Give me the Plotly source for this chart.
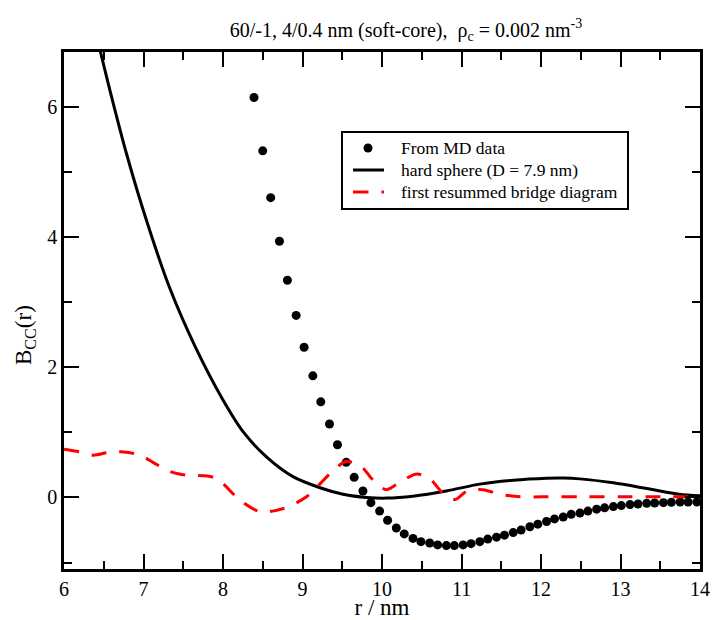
import plotly.graph_objects as go

# MD bridge function samples
r_md = [8.39, 8.50, 8.60, 8.71, 8.81, 8.92, 9.02, 9.13, 9.23, 9.34,
        9.44, 9.55, 9.65, 9.76, 9.86, 9.97, 10.07, 10.18, 10.28, 10.39,
        10.49, 10.60, 10.70, 10.81, 10.91, 11.02, 11.12, 11.23, 11.33, 11.44,
        11.54, 11.65, 11.75, 11.86, 11.96, 12.07, 12.17, 12.28, 12.38, 12.49,
        12.59, 12.70, 12.80, 12.91, 13.01, 13.12, 13.22, 13.33, 13.43, 13.54,
        13.64, 13.75, 13.85, 13.96]
b_md = [6.15, 5.33, 4.61, 3.94, 3.34, 2.80, 2.31, 1.87, 1.47, 1.13,
        0.81, 0.54, 0.31, 0.10, -0.08, -0.21, -0.35, -0.47, -0.56, -0.63,
        -0.68, -0.70, -0.73, -0.74, -0.74, -0.73, -0.71, -0.68, -0.64, -0.61,
        -0.58, -0.54, -0.50, -0.45, -0.41, -0.37, -0.33, -0.30, -0.26, -0.24,
        -0.21, -0.18, -0.16, -0.14, -0.125, -0.11, -0.10, -0.09, -0.085, -0.08,
        -0.075, -0.07, -0.07, -0.07]

# hard-sphere bridge function (D = 7.9 nm)
r_hs = [6.40, 6.58, 6.79, 7.04, 7.33, 7.65, 8.00, 8.26, 8.55, 8.88,
        9.22, 9.51, 9.81, 10.06, 10.39, 10.81, 11.23, 11.65, 12.07, 12.28,
        12.49, 12.91, 13.33, 13.74, 14.00]
b_hs = [7.15, 6.25, 5.27, 4.25, 3.22, 2.32, 1.50, 1.00, 0.62, 0.32,
        0.15, 0.05, 0.00, -0.01, 0.02, 0.10, 0.205, 0.266, 0.297, 0.30,
        0.286, 0.225, 0.138, 0.05, 0.025]

# first resummed bridge diagram
r_br = [6.00, 6.20, 6.37, 6.55, 6.75, 6.96, 7.12, 7.29, 7.45, 7.59,
        7.80, 7.90, 8.00, 8.21, 8.47, 8.76, 9.05, 9.35, 9.54, 9.72,
        9.85, 9.95, 10.06, 10.23, 10.44, 10.60, 10.77, 10.92, 11.07, 11.27,
        11.48, 11.74, 12.00, 12.50, 13.00, 13.50, 14.00]
b_br = [0.74, 0.70, 0.65, 0.69, 0.70, 0.65, 0.54, 0.42, 0.36, 0.34,
        0.33, 0.30, 0.215, -0.04, -0.22, -0.17, 0.01, 0.37, 0.55, 0.50,
        0.32, 0.19, 0.12, 0.24, 0.36, 0.29, 0.06, -0.03, 0.10, 0.12,
        0.05, 0.01, 0.01, 0.01, 0.01, 0.01, 0.01]

legend_labels = ["From MD data", "hard sphere (D = 7.9 nm)",
                 "first resummed bridge diagram"]

SERIF = "Liberation Serif, Times New Roman, serif"
RED = "#ff0000"
W, H = 712, 620
ML, MR, MT, MB = 64, 12, 52, 51
PW, PH = W - ML - MR, H - MT - MB


def px(x):
    """Horizontal pixel position -> paper fraction of the plot area."""
    return (x - ML) / PW


def py(y):
    """Vertical pixel position (from top) -> paper fraction of the plot area."""
    return (H - MB - y) / PH


fig = go.Figure()
fig.add_trace(go.Scatter(
    x=r_md, y=b_md, mode="markers", name=legend_labels[0],
    marker=dict(color="black", size=9, symbol="circle"), showlegend=False,
))
fig.add_trace(go.Scatter(
    x=r_hs, y=b_hs, mode="lines", name=legend_labels[1],
    line=dict(color="black", width=3, shape="spline", smoothing=0.8),
    showlegend=False,
))
fig.add_trace(go.Scatter(
    x=r_br, y=b_br, mode="lines", name=legend_labels[2],
    line=dict(color=RED, width=3, shape="spline", smoothing=0.8,
              dash="15px,13px"),
    showlegend=False,
))

axis_common = dict(
    showline=True, linecolor="black", linewidth=2.5, mirror="allticks",
    ticks="inside", ticklen=15, tickwidth=1.5, tickcolor="black",
    showgrid=False, zeroline=False, automargin=False,
    tickfont=dict(family=SERIF, size=20, color="black"),
)

fig.update_xaxes(
    range=[6, 14], dtick=1, tick0=6,
    minor=dict(dtick=0.5, ticks="inside", ticklen=8, tickwidth=1.5,
               tickcolor="black", showgrid=False),
    title=dict(text="r / nm", font=dict(family=SERIF, size=23, color="black"),
               standoff=2),
    **axis_common,
)
fig.update_yaxes(
    range=[-1.1, 6.85], dtick=2, tick0=0,
    minor=dict(dtick=1, ticks="inside", ticklen=8, tickwidth=1.5,
               tickcolor="black", showgrid=False),
    **axis_common,
)

# boxed legend in the upper middle of the plot
box = dict(x0=342, x1=628, y0=132, y1=209)
rows = [148, 170, 192]
shapes = [
    dict(type="rect", xref="paper", yref="paper",
         x0=px(box["x0"]), x1=px(box["x1"]), y0=py(box["y1"]), y1=py(box["y0"]),
         line=dict(color="black", width=2), fillcolor="white", layer="above"),
    dict(type="circle", xref="paper", yref="paper",
         x0=px(363.5), x1=px(372.5), y0=py(rows[0] + 4.5), y1=py(rows[0] - 4.5),
         line=dict(color="black", width=0), fillcolor="black", layer="above"),
    dict(type="line", xref="paper", yref="paper",
         x0=px(353), x1=px(384), y0=py(rows[1]), y1=py(rows[1]),
         line=dict(color="black", width=3), layer="above"),
    dict(type="line", xref="paper", yref="paper",
         x0=px(353), x1=px(384), y0=py(rows[2]), y1=py(rows[2]),
         line=dict(color=RED, width=3, dash="15.5px,13px"), layer="above"),
]
annotations = [
    dict(text=lab, xref="paper", yref="paper", x=px(399), y=py(yy),
         xanchor="left", yanchor="middle", showarrow=False,
         font=dict(family=SERIF, size=17.5, color="black"))
    for lab, yy in zip(legend_labels, rows)
]
annotations.append(dict(
    text="B<sub>CC</sub>(r)", xref="paper", yref="paper",
    x=px(25), y=py(335), xanchor="center", yanchor="middle",
    textangle=-90, showarrow=False,
    font=dict(family=SERIF, size=23, color="black"),
))

fig.update_layout(
    width=W, height=H,
    margin=dict(l=ML, r=MR, t=MT, b=MB),
    paper_bgcolor="white", plot_bgcolor="white",
    title=dict(
        text="60/-1, 4/0.4 nm (soft-core),  \u03c1<sub>c</sub> = 0.002 nm<sup>-3</sup>",
        font=dict(family=SERIF, size=20, color="black"),
        x=406 / W, xanchor="center", y=0.952, yanchor="middle",
    ),
    shapes=shapes,
    annotations=annotations,
    showlegend=False,
)

fig.write_html("out.html")
